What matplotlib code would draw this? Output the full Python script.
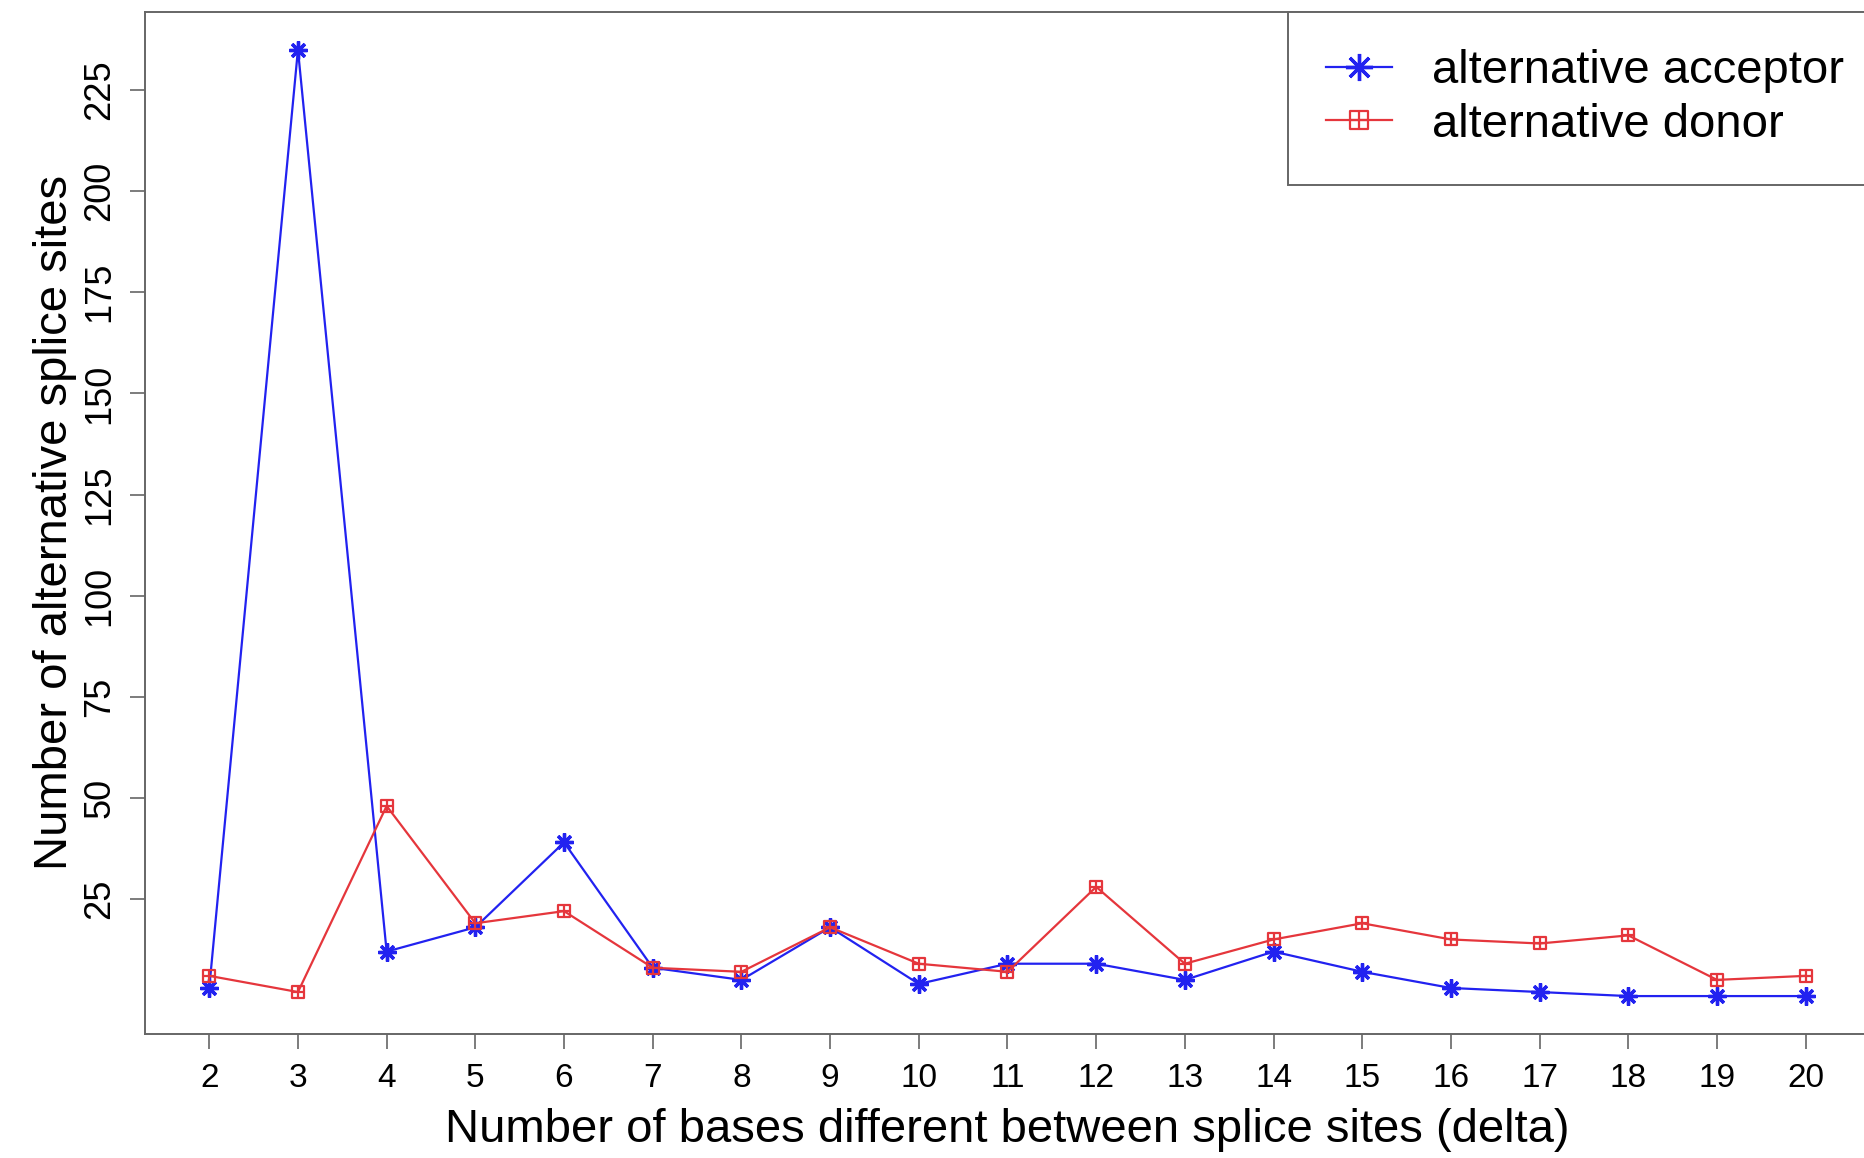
import matplotlib
matplotlib.use('Agg')
import matplotlib.pyplot as plt
from matplotlib.path import Path

plt.rcParams['font.family'] = ['Liberation Sans', 'DejaVu Sans']

delta = list(range(2, 21))
acceptor = [3, 235, 12, 18, 39, 8, 5, 18, 4, 9, 9, 5, 12, 7, 3, 2, 1, 1, 1]
donor = [6, 2, 48, 19, 22, 8, 7, 18, 9, 7, 28, 9, 15, 19, 15, 14, 16, 5, 6]

# square with a plus inside (like R pch=12)
sq_plus = Path(
    [(-1, -1), (1, -1), (1, 1), (-1, 1), (-1, -1),
     (0, -1), (0, 1), (-1, 0), (1, 0)],
    [Path.MOVETO, Path.LINETO, Path.LINETO, Path.LINETO, Path.CLOSEPOLY,
     Path.MOVETO, Path.LINETO, Path.MOVETO, Path.LINETO])

fig = plt.figure(figsize=(18.64, 11.58), dpi=100)
ax = fig.add_axes([0.078, 0.107, 0.925, 0.883])

ax.plot(delta, acceptor, color='#2222f0', lw=1.6, marker=(8, 2, 0),
        markersize=13, markeredgewidth=2.4, label='alternative acceptor')
ax.plot(delta, donor, color='#e5363c', lw=1.6, marker=sq_plus,
        markersize=9, markeredgewidth=1.6, markerfacecolor='none',
        label='alternative donor')

ax.set_xlim(1.28, 20.72)
ax.set_ylim(-8.4, 244.4)
ax.set_xticks(delta)
ax.set_yticks(range(25, 226, 25))
ax.tick_params(axis='x', labelsize=24, length=11, width=1.2, color='#666666', pad=10)
ax.tick_params(axis='y', labelsize=26, length=11, width=1.2, color='#666666', pad=9)
for lab in ax.get_yticklabels():
    lab.set_rotation(90)
    lab.set_va('center')

for sp in ax.spines.values():
    sp.set_color('#666666')
    sp.set_linewidth(1.4)

ax.set_xlabel('Number of bases different between splice sites (delta)', fontsize=34, labelpad=10)
ax.set_ylabel('Number of alternative splice sites', fontsize=34, labelpad=4)

leg = ax.legend(loc='upper right', bbox_to_anchor=(1.007, 1), fontsize=34,
                fancybox=False, framealpha=1, edgecolor='#666666',
                borderpad=0.8, handlelength=1.4, handletextpad=0.85,
                labelspacing=0.2, borderaxespad=0, markerscale=1.5)
leg.get_frame().set_linewidth(1.4)

fig.savefig('out.png', dpi=100)
